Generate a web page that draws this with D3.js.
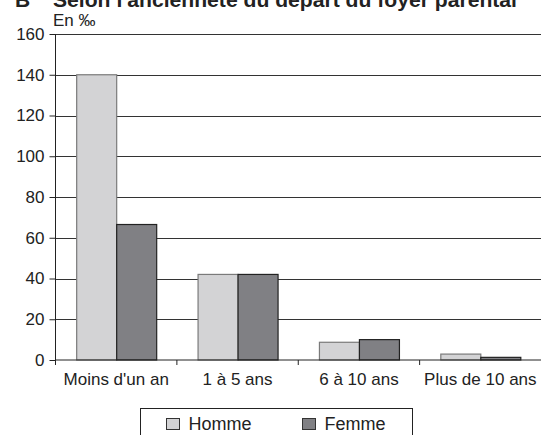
<!DOCTYPE html>
<html>
<head>
<meta charset="utf-8">
<script src="https://cdn.jsdelivr.net/npm/d3@7"></script>
<style>
  body { margin: 0; background: #fff; }
  svg { display: block; font-family: "Liberation Sans", Arial, sans-serif; }
</style>
</head>
<body>
<div id="chart"></div>
<script>
// Dati (valori in per mille)
var categorie = ["Moins d'un an", "1 à 5 ans", "6 à 10 ans", "Plus de 10 ans"];
var serie = ["Homme", "Femme"];
var valoriHomme = [140, 42, 8.7, 2.9];
var valoriFemme = [66.5, 42, 10, 1.3];
var tickY = [0, 20, 40, 60, 80, 100, 120, 140, 160];

var colori = { Homme: "#d3d3d5", Femme: "#808084" };
var bordi = { Homme: "#7a7a7a", Femme: "#222" };

var W = 541, H = 435;
var margin = {top: 34, right: 0, bottom: 75, left: 55.5};
var width = W - margin.left - margin.right;
var height = H - margin.top - margin.bottom;

var svg = d3.select("#chart")
  .append("svg")
  .attr("width", W)
  .attr("height", H);

// Titolo (tagliato in alto come nell'originale)
svg.append("text")
  .attr("x", 15)
  .attr("y", 7)
  .style("font-size", "21px")
  .style("font-weight", "bold")
  .attr("fill", "#222")
  .text("B");
svg.append("text")
  .attr("x", 53)
  .attr("y", 7)
  .attr("textLength", 464)
  .attr("lengthAdjust", "spacingAndGlyphs")
  .style("font-size", "21px")
  .style("font-weight", "bold")
  .attr("fill", "#222")
  .text("Selon l'ancienneté du départ du foyer parental");

svg.append("text")
  .attr("x", 53)
  .attr("y", 26)
  .style("font-size", "17px")
  .attr("fill", "#222")
  .text("En ‰");

var g = svg.append("g")
  .attr("transform", "translate(" + margin.left + "," + margin.top + ")");

var x = d3.scaleBand()
  .domain(categorie)
  .range([0, width])
  .paddingInner(0)
  .paddingOuter(0);

var x1 = d3.scaleBand()
  .domain(serie)
  .range([0, 80]);

var y = d3.scaleLinear()
  .domain([0, 160])
  .range([height, 0]);

// Griglia orizzontale
g.append("g")
  .selectAll("line")
  .data(tickY.filter(function(d) { return d > 0; }))
  .enter()
  .append("line")
  .attr("x1", 0)
  .attr("x2", width)
  .attr("y1", function(d) { return Math.round(y(d)) + 0.5; })
  .attr("y2", function(d) { return Math.round(y(d)) + 0.5; })
  .attr("stroke", "#333")
  .attr("stroke-width", 1);

// Barre
var dati = categorie.map(function(c, i) {
  return { cat: c, valori: [
    { serie: "Homme", v: valoriHomme[i] },
    { serie: "Femme", v: valoriFemme[i] }
  ]};
});

var gruppi = g.selectAll(".gruppo")
  .data(dati)
  .enter()
  .append("g")
  .attr("class", "gruppo")
  .attr("transform", function(d) {
    return "translate(" + (x(d.cat) + x.bandwidth() / 2 - 40) + ",0)";
  });

gruppi.selectAll("rect")
  .data(function(d) { return d.valori; })
  .enter()
  .append("rect")
  .attr("x", function(d) { return x1(d.serie) + 0.5; })
  .attr("y", function(d) { return y(d.v); })
  .attr("width", x1.bandwidth())
  .attr("height", function(d) { return height - y(d.v); })
  .attr("fill", function(d) { return colori[d.serie]; })
  .attr("stroke", function(d) { return bordi[d.serie]; })
  .attr("stroke-width", 1.2);

// Asse Y
var assey = g.append("g")
  .call(d3.axisLeft(y).tickValues(tickY).tickSize(6).tickPadding(5));
assey.selectAll("text").style("font-size", "17px").attr("fill", "#222");
assey.selectAll("line, path").attr("stroke", "#222");
assey.select(".domain").attr("d", "M0," + height + "V0");

// Asse X
var assex = g.append("g")
  .attr("transform", "translate(0," + height + ")");
assex.append("line")
  .attr("x1", 0).attr("x2", width)
  .attr("y1", 0).attr("y2", 0)
  .attr("stroke", "#222");
assex.selectAll(".tacca")
  .data(categorie)
  .enter()
  .append("line")
  .attr("x1", function(d) { return x(d); })
  .attr("x2", function(d) { return x(d); })
  .attr("y1", 0).attr("y2", 5)
  .attr("stroke", "#222");
assex.selectAll(".etichetta")
  .data(categorie)
  .enter()
  .append("text")
  .attr("x", function(d) { return x(d) + x.bandwidth() / 2; })
  .attr("y", 25)
  .attr("text-anchor", "middle")
  .style("font-size", "17px")
  .attr("fill", "#222")
  .text(function(d) { return d; });

// Legenda
var leg = svg.append("g");
leg.append("rect")
  .attr("x", 140.5).attr("y", 408.5)
  .attr("width", 272).attr("height", 40)
  .attr("fill", "none")
  .attr("stroke", "#222");

var posLeg = { Homme: 166.5, Femme: 302.5 };
serie.forEach(function(s) {
  leg.append("rect")
    .attr("x", posLeg[s]).attr("y", 418.5)
    .attr("width", 13).attr("height", 11)
    .attr("fill", colori[s])
    .attr("stroke", "#333");
  leg.append("text")
    .attr("x", posLeg[s] + 22)
    .attr("y", 430)
    .style("font-size", "18px")
    .attr("fill", "#222")
    .text(s);
});
</script>
</body>
</html>
